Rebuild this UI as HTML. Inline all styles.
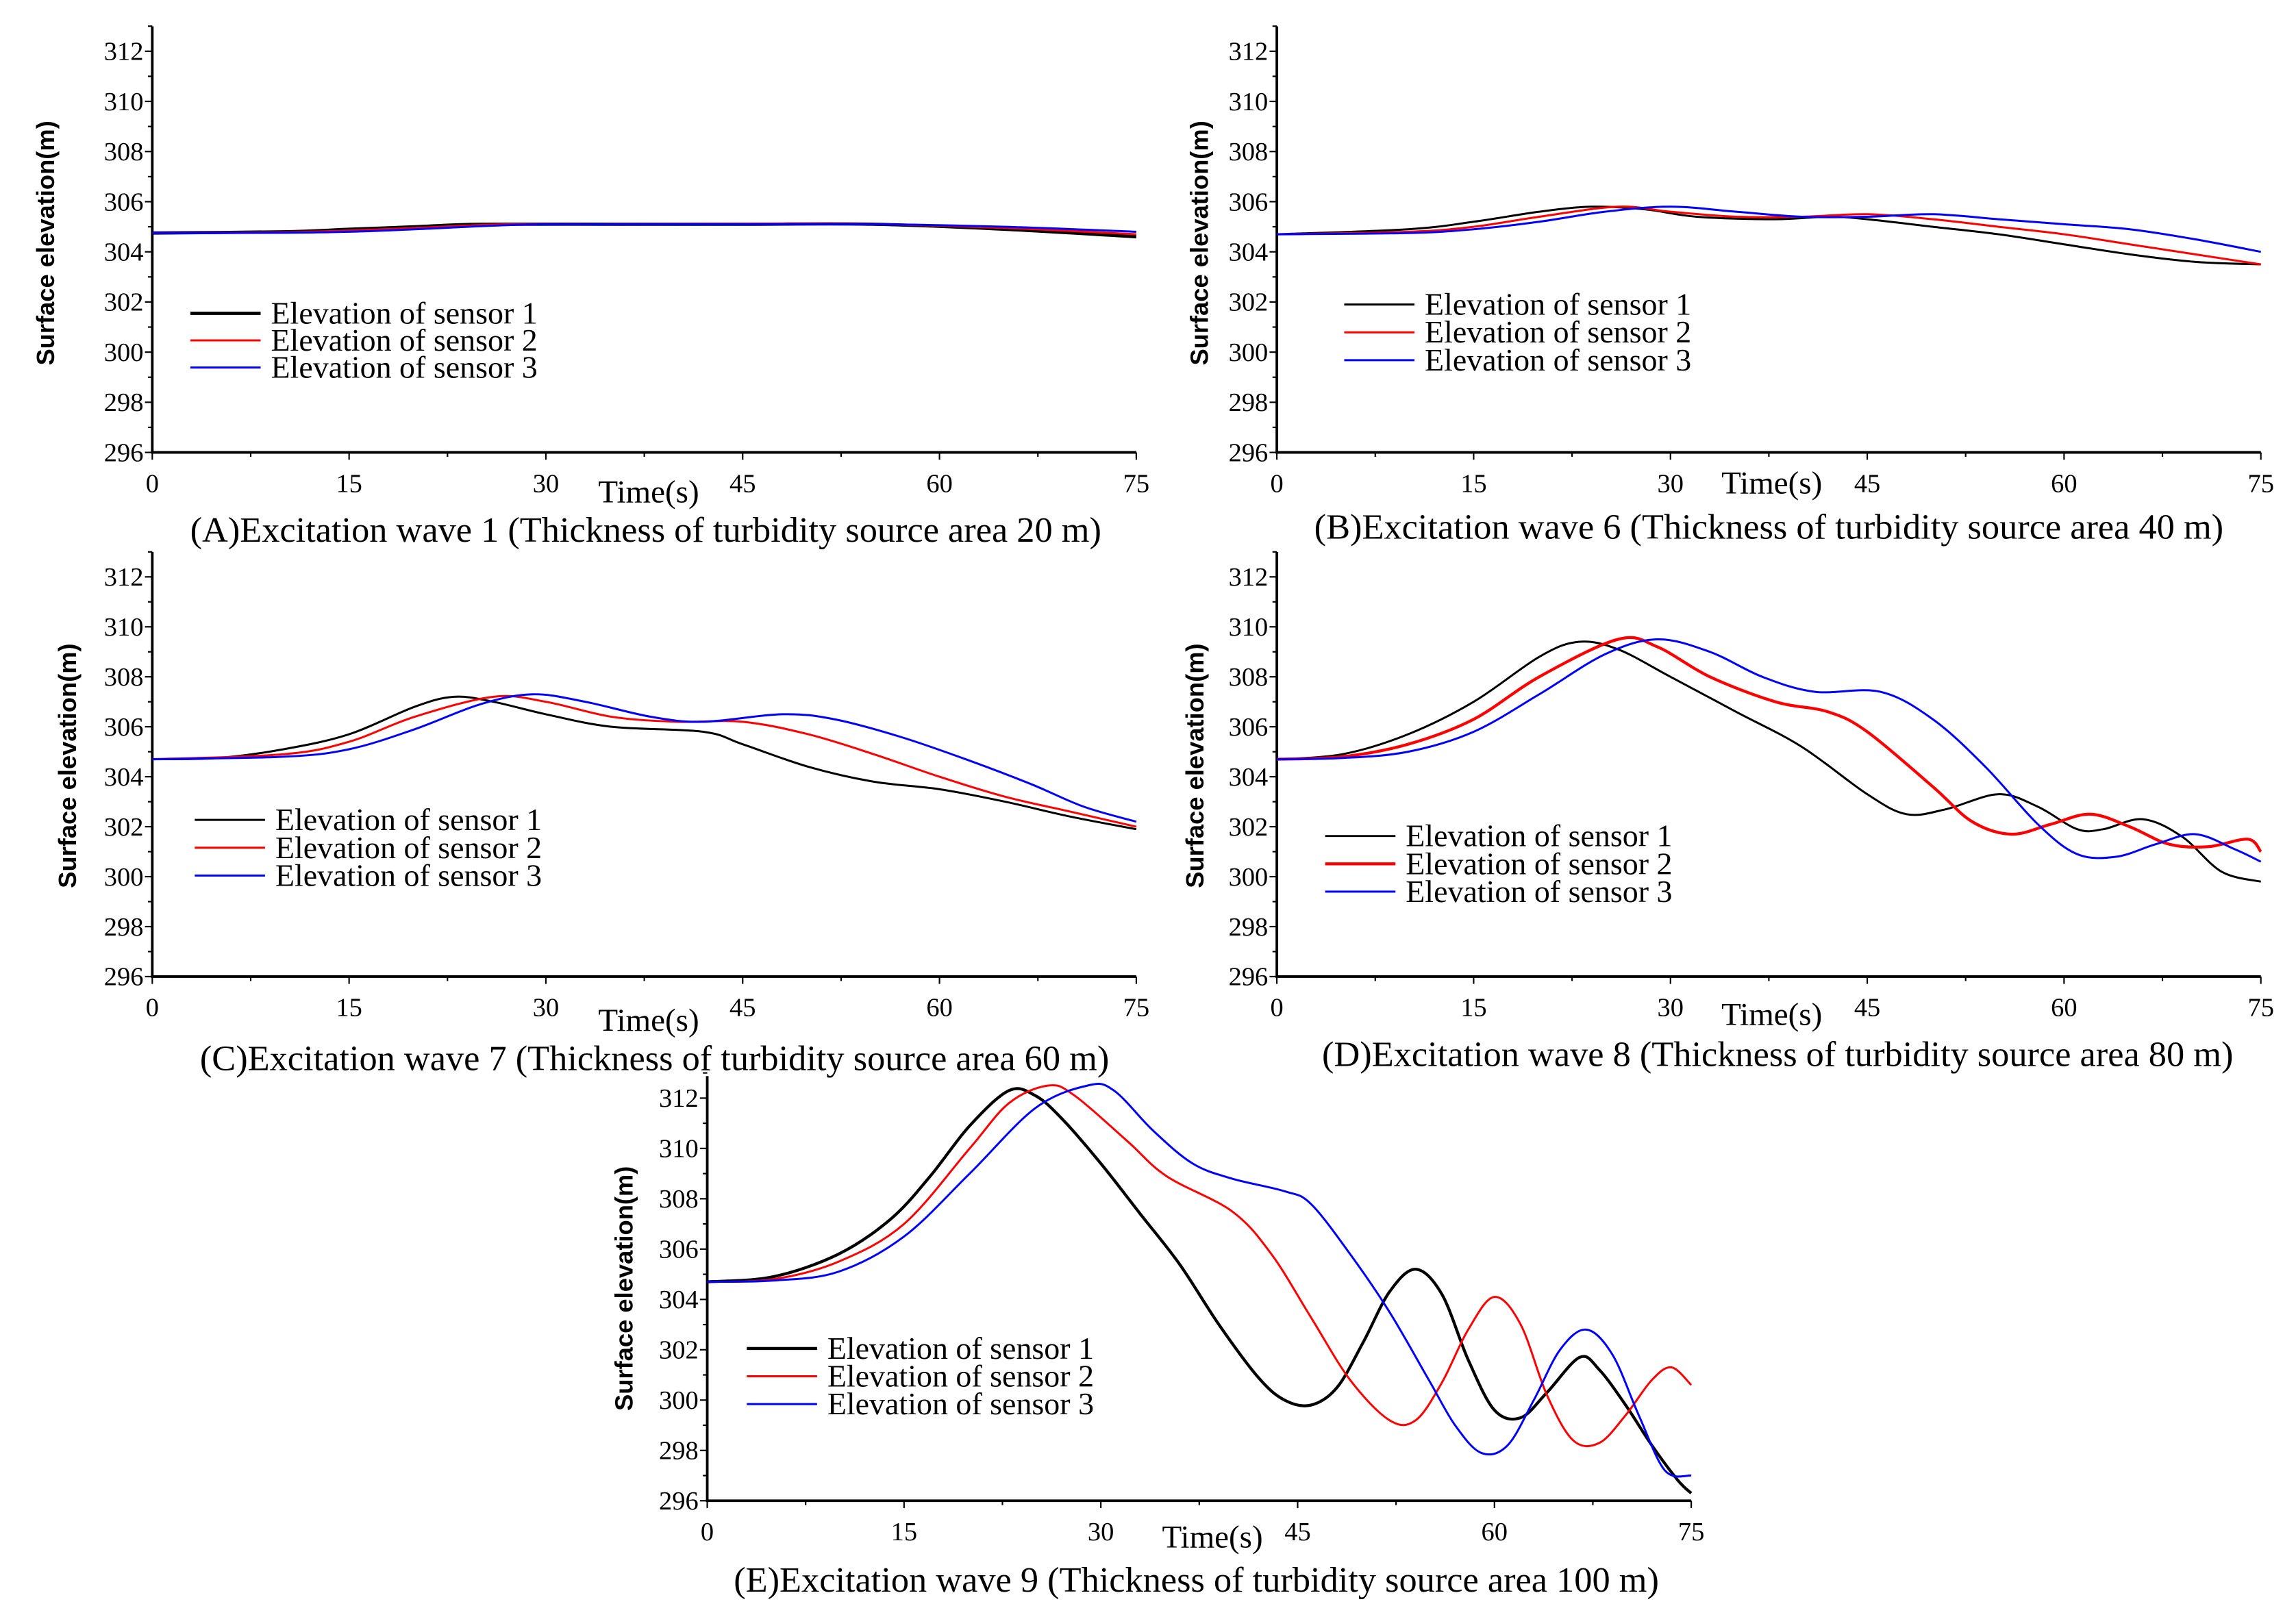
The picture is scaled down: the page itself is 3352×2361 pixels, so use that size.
<!DOCTYPE html>
<html><head><meta charset="utf-8"><style>
html,body{margin:0;padding:0;background:#fff;}
svg{display:block;}
</style></head><body>
<svg id="fig" xmlns="http://www.w3.org/2000/svg" width="3352" height="2361" viewBox="0 0 1568 1104.4" preserveAspectRatio="none"></svg>
<script>
// ---- data ----
const xTicks = [0, 15, 30, 45, 60, 75];
const yTicks = [296, 298, 300, 302, 304, 306, 308, 310, 312];
const seriesNames = ["Elevation of sensor 1", "Elevation of sensor 2", "Elevation of sensor 3"];
const seriesColors = ["#000", "#ff0000", "#0000ff"];

const aT1 = [0,10,15,20,25,35,45,55,65,75];
const aV1 = [304.75,304.8,304.9,305.0,305.1,305.1,305.1,305.1,304.9,304.6];
const aT2 = [0,10,15,20,27,35,45,55,65,75];
const aV2 = [304.75,304.78,304.85,304.95,305.1,305.1,305.12,305.1,304.95,304.7];
const aT3 = [0,10,15,20,28,35,45,55,65,75];
const aV3 = [304.75,304.76,304.8,304.9,305.08,305.1,305.1,305.1,305.0,304.8];

const bT1 = [0,10,15,20,24,28,32,38,42,45,50,55,60,65,70,75];
const bV1 = [304.7,304.9,305.2,305.6,305.8,305.7,305.4,305.3,305.4,305.3,305.0,304.7,304.3,303.9,303.6,303.5];
const bT2 = [0,10,15,20,26,30,35,40,45,50,55,60,65,70,75];
const bV2 = [304.7,304.8,305.0,305.4,305.8,305.6,305.4,305.4,305.5,305.3,305.0,304.7,304.3,303.9,303.5];
const bT3 = [0,10,15,20,25,30,35,40,45,50,55,60,65,70,75];
const bV3 = [304.7,304.75,304.9,305.2,305.6,305.8,305.6,305.4,305.4,305.5,305.3,305.1,304.9,304.5,304.0];

const cT1 = [0,5,10,15,20,23,26,30,35,42,45,50,55,60,65,70,75];
const cV1 = [304.7,304.75,305.1,305.7,306.8,307.2,307.0,306.5,306.0,305.8,305.3,304.4,303.8,303.5,303.0,302.4,301.9];
const cT2 = [0,10,15,20,26,30,35,40,45,50,55,60,65,70,75];
const cV2 = [304.7,304.9,305.4,306.4,307.2,307.0,306.4,306.2,306.2,305.7,304.9,304.0,303.2,302.6,302.0];
const cT3 = [0,10,15,20,25,29,33,38,42,48,52,57,62,67,71,75];
const cV3 = [304.7,304.8,305.1,305.9,306.9,307.3,307.0,306.4,306.2,306.5,306.3,305.6,304.7,303.7,302.8,302.2];

const dT1 = [0,5,10,15,20,23,26,30,35,40,45,48,51,55,58,61,63,66,69,72,75];
const dV1 = [304.7,304.9,305.7,307.0,308.8,309.4,309.1,308.0,306.6,305.2,303.3,302.5,302.7,303.3,302.8,301.9,301.9,302.3,301.6,300.2,299.8];
const dT2 = [0,5,10,15,20,26,29,33,38,42,45,50,53,56,59,62,65,68,71,74,75];
const dV2 = [304.7,304.8,305.3,306.3,308.0,309.5,309.2,308.0,307.0,306.6,305.8,303.6,302.2,301.7,302.1,302.5,302.0,301.3,301.2,301.5,301.0];
const dT3 = [0,5,10,15,20,25,29,33,37,41,46,50,54,58,61,64,67,70,73,75];
const dV3 = [304.7,304.75,305.0,305.8,307.3,308.9,309.5,309.0,308.0,307.4,307.4,306.3,304.4,302.1,300.9,300.8,301.3,301.7,301.1,300.6];

const eT1 = [0,5,10,14,17,20,23,25,27,30,33,36,39,42,44,46,48,50,52,54,56,58,60,62,64,66.5,68,70,72,74,75];
const eV1 = [304.7,304.9,305.8,307.2,308.9,310.9,312.3,312.1,311.2,309.4,307.4,305.4,303.0,300.9,300.0,299.8,300.5,302.3,304.3,305.2,304.2,301.6,299.6,299.3,300.3,301.7,301.2,299.8,298.2,296.8,296.3];
const eT2 = [0,5,10,15,20,23,26,28,32,35,40,43,46,49,52,54,56,58,60,62,64,66,68,70,72,73.5,75];
const eV2 = [304.7,304.8,305.5,307.0,310.0,311.8,312.5,312.1,310.3,308.9,307.5,305.8,303.3,300.8,299.2,299.2,300.7,302.8,304.1,303.0,300.2,298.4,298.3,299.4,300.8,301.3,300.6];
const eT3 = [0,5,10,15,20,25,29,31,34,37,40,44,46,49,52,55,57,59,61,63,65,67,69,71,73,75];
const eV3 = [304.7,304.75,305.1,306.5,309.0,311.6,312.5,312.3,310.7,309.4,308.8,308.3,307.8,305.8,303.5,300.8,299.0,297.9,298.2,300.0,302.0,302.8,301.8,299.4,297.2,297.0];

const captions = [
 "(A)Excitation wave 1 (Thickness of turbidity source area 20 m)",
 "(B)Excitation wave 6 (Thickness of turbidity source area 40 m)",
 "(C)Excitation wave 7 (Thickness of turbidity source area 60 m)",
 "(D)Excitation wave 8 (Thickness of turbidity source area 80 m)",
 "(E)Excitation wave 9 (Thickness of turbidity source area 100 m)"
];

// ---- layout ----
const panels = [
 {id:"a", x0:104, x1:776, y312:35, y296:309, top:18, data:[[aT1,aV1],[aT2,aV2],[aT3,aV3]], leg:[130,214,18.5], lw:[2.2,1.4,1.4], time:[443,343], cap:[441,370], yt:[30,166]},
 {id:"b", x0:872, x1:1544, y312:35, y296:309, top:18, data:[[bT1,bV1],[bT2,bV2],[bT3,bV3]], leg:[918,208,19], lw:[1.4,1.4,1.4], time:[1210,337], cap:[1208,368], yt:[818,166]},
 {id:"c", x0:104, x1:776, y312:394, y296:667, top:377, data:[[cT1,cV1],[cT2,cV2],[cT3,cV3]], leg:[133,560,19], lw:[1.4,1.4,1.4], time:[443,704], cap:[447,731], yt:[45,523]},
 {id:"d", x0:872, x1:1544, y312:394, y296:667, top:377, data:[[dT1,dV1],[dT2,dV2],[dT3,dV3]], leg:[905,571,19], lw:[1.4,2,1.4], time:[1210,700], cap:[1214,728], yt:[815,523]},
 {id:"e", x0:483, x1:1155, y312:750, y296:1025, top:735, data:[[eT1,eV1],[eT2,eV2],[eT3,eV3]], leg:[510,921,19], lw:[2,1.4,1.4], time:[828,1057], cap:[817,1087], yt:[425,880]}
];

const NS = "http://www.w3.org/2000/svg";
const svg = document.getElementById("fig");
function mk(tag, attrs, parent){
  const e = document.createElementNS(NS, tag);
  for (const k in attrs) e.setAttribute(k, attrs[k]);
  (parent||svg).appendChild(e);
  return e;
}
function smoothPath(pts){
  let d = "M" + pts[0][0].toFixed(2) + "," + pts[0][1].toFixed(2);
  for (let i=0;i<pts.length-1;i++){
    const p0=pts[Math.max(0,i-1)], p1=pts[i], p2=pts[i+1], p3=pts[Math.min(pts.length-1,i+2)];
    const c1=[p1[0]+(p2[0]-p0[0])/6, p1[1]+(p2[1]-p0[1])/6];
    const c2=[p2[0]-(p3[0]-p1[0])/6, p2[1]-(p3[1]-p1[1])/6];
    d += " C"+c1[0].toFixed(2)+","+c1[1].toFixed(2)+" "+c2[0].toFixed(2)+","+c2[1].toFixed(2)+" "+p2[0].toFixed(2)+","+p2[1].toFixed(2);
  }
  return d;
}
const serif = "'Liberation Serif', serif";

panels.forEach((p, pi) => {
  const g = mk("g", {});
  
  
  const sx = t => p.x0 + (t - 0) / 75 * (p.x1 - p.x0);
  const sy = v => p.y296 + (v - 296) / 16 * (p.y312 - p.y296);

  const ax = mk("path", {d:"M"+p.x0+","+p.top+" L"+p.x0+","+p.y296+" L"+p.x1+","+p.y296, fill:"none", stroke:"#000", "stroke-width":1.8}, g);
  
  

  for (let v=296; v<=313; v+=1){
    const isMaj = (v % 2 === 0);
    mk("line", {x1:p.x0, x2:p.x0-(isMaj?5:3), y1:sy(v), y2:sy(v), stroke:"#000", "stroke-width":1}, g);
  }
  yTicks.forEach(v => {
    const t = mk("text", {x:p.x0-6, y:sy(v)+6, "text-anchor":"end", "font-family":serif, "font-size":18}, g);
    t.textContent = v;
    
    
  });
  for (let tt=0; tt<=75; tt+=7.5){
    const isMaj = (tt % 15 === 0);
    mk("line", {x1:sx(tt), x2:sx(tt), y1:p.y296, y2:p.y296+(isMaj?5:3), stroke:"#000", "stroke-width":1}, g);
  }
  xTicks.forEach(tt => {
    const t = mk("text", {x:sx(tt), y:p.y296+27, "text-anchor":"middle", "font-family":serif, "font-size":18}, g);
    t.textContent = tt;
    
    
  });

  p.data.forEach((s, si) => {
    const pts = s[0].map((tt, k) => [sx(tt), sy(s[1][k])]);
    const path = mk("path", {d:smoothPath(pts), fill:"none", stroke:seriesColors[si], "stroke-width":p.lw[si]}, g);
    
    
  });

  const lg = mk("g", {}, g);
  
  
  seriesNames.forEach((nm, si) => {
    const y = p.leg[1] + si * p.leg[2];
    mk("line", {x1:p.leg[0], x2:p.leg[0]+48, y1:y, y2:y, stroke:seriesColors[si], "stroke-width":p.lw[si]}, lg);
    const t = mk("text", {x:p.leg[0]+55, y:y+7, "font-family":serif, "font-size":21.5}, lg);
    t.textContent = nm;
    
    
  });

  const xt = mk("text", {x:p.time[0], y:p.time[1], "text-anchor":"middle", "font-family":serif, "font-size":22}, g);
  xt.textContent = "Time(s)";
  
  
  const yt = mk("text", {x:0, y:0, transform:"translate("+(p.yt[0]+7)+","+p.yt[1]+") rotate(-90)", "text-anchor":"middle", "font-family":"'Liberation Sans', sans-serif", "font-weight":"bold", "font-size":17}, g);
  yt.textContent = "Surface elevation(m)";
  
  

  const cp = mk("text", {x:p.cap[0], y:p.cap[1], "text-anchor":"middle", "font-family":serif, "font-size":24.5}, g);
  cp.textContent = captions[pi];
  
  
});
</script>
</body></html>
